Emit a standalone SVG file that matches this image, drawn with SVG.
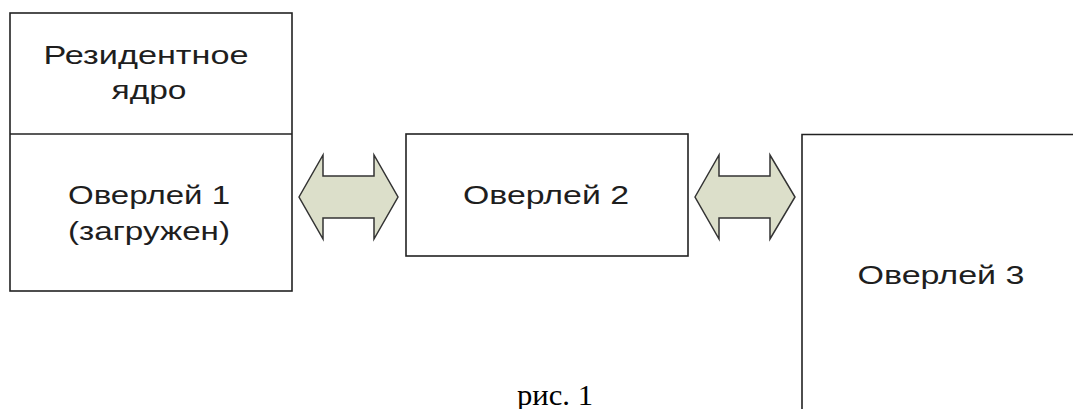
<svg xmlns="http://www.w3.org/2000/svg" width="1073" height="409" viewBox="0 0 1073 409">
<style>
.box{fill:#fff;stroke:#222;stroke-width:1.6}
.arr{fill:#dcdfca;stroke:#333;stroke-width:1.5;stroke-linejoin:miter}
.t{font-family:"Liberation Sans",Arial,sans-serif;font-size:26px;fill:#1e1e1e;text-anchor:middle}
.cap{font-family:"Liberation Serif","Times New Roman",serif;font-size:30px;fill:#000}
</style>
<rect width="1073" height="409" fill="#fff"/>
<g id="node-overlay1">
<rect class="box" x="10" y="13" width="282" height="278"/>
<line class="box" x1="10" y1="134" x2="292" y2="134"/>
<text class="t" x="146" y="64" textLength="205" lengthAdjust="spacingAndGlyphs">Резидентное</text>
<text class="t" x="149" y="99" textLength="75" lengthAdjust="spacingAndGlyphs">ядро</text>
<text class="t" x="149" y="204" textLength="162" lengthAdjust="spacingAndGlyphs">Оверлей 1</text>
<text class="t" x="149" y="240" textLength="162" lengthAdjust="spacingAndGlyphs">(загружен)</text>
</g>
<g id="node-overlay2">
<rect class="box" x="406" y="134" width="282" height="122"/>
<text class="t" x="546" y="204" textLength="166" lengthAdjust="spacingAndGlyphs">Оверлей 2</text>
</g>
<g id="node-overlay3">
<path class="box" d="M802,410 V134.5 H1074"/>
<text class="t" x="941" y="284" textLength="167" lengthAdjust="spacingAndGlyphs">Оверлей 3</text>
</g>
<g id="connectors">
<path class="arr" d="M299,197 L323,155 L323,176 L374,176 L374,155 L398,197 L374,239 L374,218 L323,218 L323,239 Z"/>
<path class="arr" d="M695,197 L719,155 L719,176 L770,176 L770,155 L795,197 L770,239 L770,218 L719,218 L719,239 Z"/>
</g>
<text class="cap" x="517" y="405" textLength="76" lengthAdjust="spacingAndGlyphs">рис. 1</text>
</svg>
